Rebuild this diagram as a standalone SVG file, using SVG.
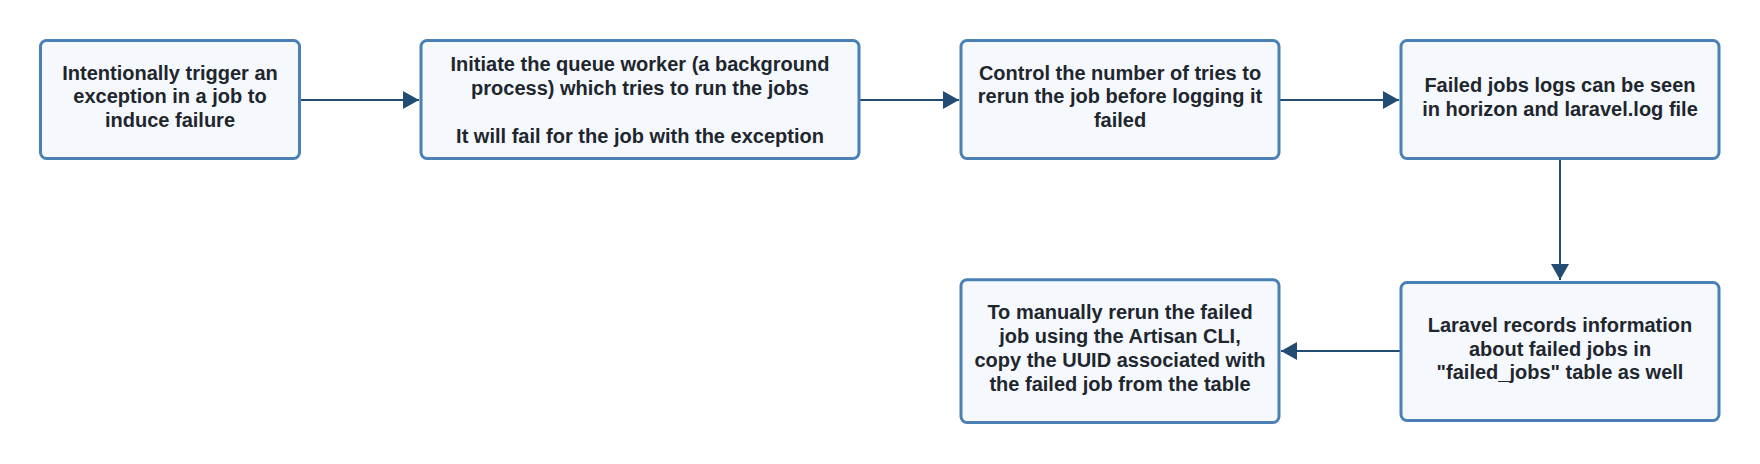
<svg xmlns="http://www.w3.org/2000/svg" width="1760" height="464" viewBox="0 0 1760 464">
<style>
.box{fill:#f5f9fe;stroke:#4a80b6;stroke-width:3}
.t{font-family:"Liberation Sans",Arial,sans-serif;font-weight:bold;font-size:20px;fill:#1f262d;text-anchor:middle}
.c{fill:none;stroke:#234c73;stroke-width:2}
</style>
<defs>
<marker id="ah" markerUnits="userSpaceOnUse" markerWidth="17" markerHeight="18" refX="16" refY="9" orient="auto" viewBox="0 0 17 18">
<path d="M0,0 L16,9 L0,18 z" fill="#234c73"/>
</marker>
</defs>
<rect width="1760" height="464" fill="#ffffff"/>
<g id="connectors">
<path class="c" d="M300,100 H419" marker-end="url(#ah)"/>
<path class="c" d="M860,100 H959" marker-end="url(#ah)"/>
<path class="c" d="M1280,100 H1399" marker-end="url(#ah)"/>
<path class="c" d="M1560,159 V280" marker-end="url(#ah)"/>
<path class="c" d="M1400,351 H1281" marker-end="url(#ah)"/>
</g>
<g id="n1">
<rect class="box" x="40.5" y="40.5" width="259" height="118" rx="6"/>
<text class="t" x="170" y="79.5">Intentionally trigger an</text>
<text class="t" x="170" y="103">exception in a job to</text>
<text class="t" x="170" y="126.5">induce failure</text>
</g>
<g id="n2">
<rect class="box" x="421" y="40.5" width="438" height="118" rx="6"/>
<text class="t" x="640" y="70.5">Initiate the queue worker (a background</text>
<text class="t" x="640" y="94.5">process) which tries to run the jobs</text>
<text class="t" x="640" y="142.5">It will fail for the job with the exception</text>
</g>
<g id="n3">
<rect class="box" x="961" y="40.5" width="318" height="118" rx="6"/>
<text class="t" x="1120" y="79.5">Control the number of tries to</text>
<text class="t" x="1120" y="103">rerun the job before logging it</text>
<text class="t" x="1120" y="126.5">failed</text>
</g>
<g id="n4">
<rect class="box" x="1401" y="40.5" width="318" height="118" rx="6"/>
<text class="t" x="1560" y="92">Failed jobs logs can be seen</text>
<text class="t" x="1560" y="116">in horizon and laravel.log file</text>
</g>
<g id="n5">
<rect class="box" x="1401" y="282.5" width="318" height="138" rx="6"/>
<text class="t" x="1560" y="331.5">Laravel records information</text>
<text class="t" x="1560" y="355.5">about failed jobs in</text>
<text class="t" x="1560" y="379">"failed_jobs" table as well</text>
</g>
<g id="n6">
<rect class="box" x="961" y="279.8" width="318" height="142.7" rx="6"/>
<text class="t" x="1120" y="319">To manually rerun the failed</text>
<text class="t" x="1120" y="343">job using the Artisan CLI,</text>
<text class="t" x="1120" y="367">copy the UUID associated with</text>
<text class="t" x="1120" y="391">the failed job from the table</text>
</g>
</svg>
